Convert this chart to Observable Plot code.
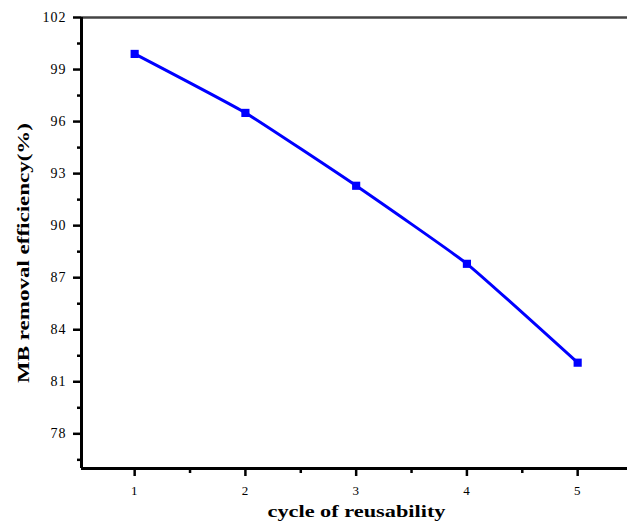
<!DOCTYPE html>
<html>
<head>
<meta charset="utf-8">
<script src="https://cdn.jsdelivr.net/npm/d3@7"></script>
<script src="https://cdn.jsdelivr.net/npm/@observablehq/plot@0.6"></script>
<style>
  html, body { margin: 0; padding: 0; background: #fff; }
  #chart svg { display: block; }
</style>
</head>
<body>
<div id="chart"></div>
<script>
const cycles = [1, 2, 3, 4, 5];
const efficiency = [99.9, 96.5, 92.3, 87.8, 82.1];
const yTicks = [78, 81, 84, 87, 90, 93, 96, 99, 102];
const yMinorTicks = [76.5, 79.5, 82.5, 85.5, 88.5, 91.5, 94.5, 97.5, 100.5];
const xTicks = [1, 2, 3, 4, 5];
const xMinorTicks = [1.5, 2.5, 3.5, 4.5];
const xLabel = "cycle of reusability";
const yLabel = "MB removal efficiency(%)";

const data = cycles.map((c, i) => ({cycle: c, eff: efficiency[i]}));

const svg = Plot.plot({
  width: 627,
  height: 529,
  marginTop: 17,
  marginBottom: 61,
  marginLeft: 81,
  marginRight: 0,
  style: {fontFamily: "'Liberation Serif', 'DejaVu Serif', serif", color: "#000", background: "#fff"},
  x: {domain: [0.52, 5.45]},
  y: {domain: [76, 102]},
  marks: [
    Plot.ruleY([102], {stroke: "#444", strokeWidth: 2.5}),
    Plot.axisY(yTicks, {tickSize: 8, strokeWidth: 2.5, tickPadding: 7, fontSize: 14, label: null, className: "ytick"}),
    Plot.axisY(yMinorTicks, {tickSize: 4, strokeWidth: 2.5, tickFormat: () => "", label: null}),
    Plot.axisX(xTicks, {tickSize: 8, strokeWidth: 2.5, tickPadding: 9, fontSize: 13, label: null, className: "xtick"}),
    Plot.axisX(xMinorTicks, {tickSize: 5, strokeWidth: 2.5, tickFormat: () => "", label: null}),
    Plot.ruleX([0.52], {stroke: "#000", strokeWidth: 3}),
    Plot.ruleY([76], {stroke: "#000", strokeWidth: 3}),
    Plot.line(data, {x: "cycle", y: "eff", stroke: "#0000ff", strokeWidth: 3, curve: "cardinal", tension: 0.6}),
    Plot.dot(data, {x: "cycle", y: "eff", symbol: "square", r: 4.6, fill: "#0000ff", stroke: "none"}),
    Plot.text([yLabel], {frameAnchor: "left", dx: -58, dy: 140, rotate: -90, textAnchor: "start", fontSize: 17, fontWeight: "bold", className: "ylab"}),
    Plot.text([xLabel], {frameAnchor: "bottom", dx: 2, dy: 48, fontSize: 17, fontWeight: "bold", className: "xlab"})
  ]
});

const s = d3.select(svg);
s.selectAll(".ytick text, .xtick text").style("letter-spacing", "1px");
s.selectAll(".ylab text").attr("textLength", 260).attr("lengthAdjust", "spacingAndGlyphs");
s.selectAll(".xlab text").attr("textLength", 178).attr("lengthAdjust", "spacingAndGlyphs");

document.getElementById("chart").appendChild(svg);
</script>
</body>
</html>
